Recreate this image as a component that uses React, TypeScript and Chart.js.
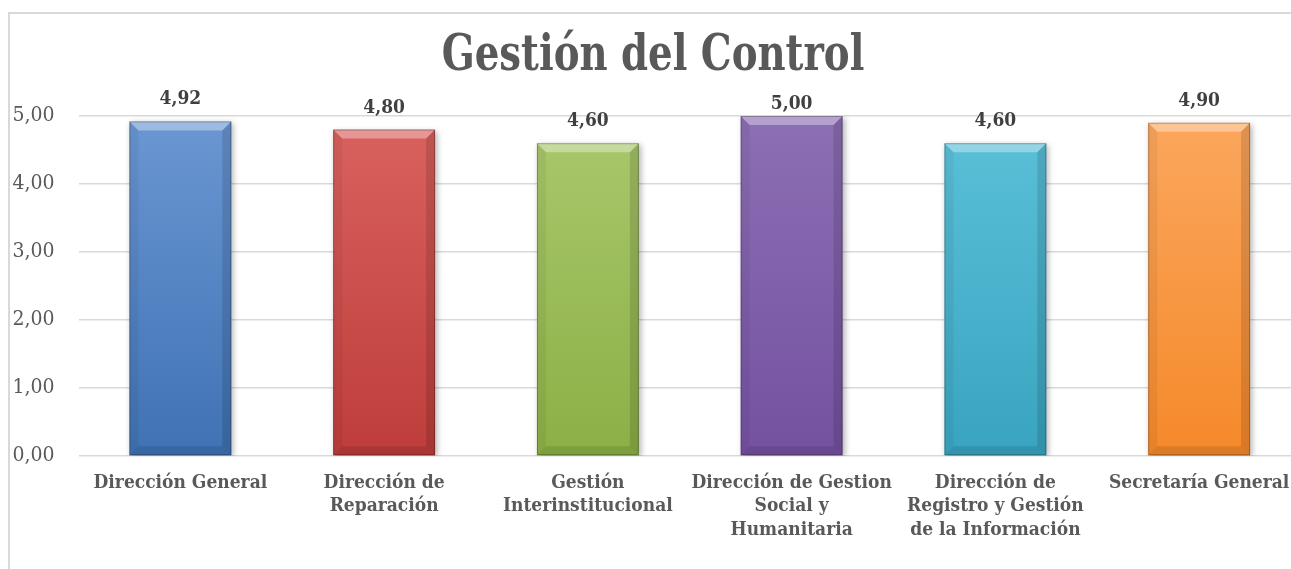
import React, { useEffect, useRef } from "react";
import { Chart, registerables } from "chart.js";
Chart.register(...registerables);

const chartTitle = "Gestión del Control";
const categories: string[][] = [
  ["Dirección General"],
  ["Dirección de", "Reparación"],
  ["Gestión", "Interinstitucional"],
  ["Dirección de Gestion", "Social y", "Humanitaria"],
  ["Dirección de", "Registro y Gestión", "de la Información"],
  ["Secretaría General"],
];
const values = [4.92, 4.8, 4.6, 5.0, 4.6, 4.9];
const yTickValues = [0, 1, 2, 3, 4, 5];
const barTopColors = ["#6b97d3", "#d9625f", "#aac86d", "#8c6fb4", "#5cc1d9", "#fba75e"];
const barBottomColors = ["#3f72b4", "#be3d3a", "#8cb046", "#7551a0", "#39a4c0", "#f5892a"];

const FONT = "DejaVu Serif Condensed";
const fmt = (v: number) => v.toFixed(2).replace(".", ",");

export default function App() {
  const ref = useRef<HTMLCanvasElement>(null);
  useEffect(() => {
    const canvas = ref.current!;
    const bevel = {
      id: "bevel",
      beforeDatasetsDraw(chart: any) {
        const ctx = chart.ctx;
        ctx.save();
        ctx.shadowColor = "rgba(0,0,0,0.3)";
        ctx.shadowBlur = 6;
        ctx.shadowOffsetX = 2;
        ctx.shadowOffsetY = 2;
      },
      afterDatasetsDraw(chart: any) {
        const ctx = chart.ctx;
        ctx.restore();
        const meta = chart.getDatasetMeta(0);
        meta.data.forEach((bar: any, i: number) => {
          const { x, y, base, width } = bar.getProps(["x", "y", "base", "width"], true);
          const x0 = x - width / 2;
          const x1 = x + width / 2;
          const b = 9;
          const poly = (pts: number[][], col: string) => {
            ctx.beginPath();
            ctx.moveTo(pts[0][0], pts[0][1]);
            for (let k = 1; k < pts.length; k++) ctx.lineTo(pts[k][0], pts[k][1]);
            ctx.closePath();
            ctx.fillStyle = col;
            ctx.fill();
          };
          poly([[x0, y], [x1, y], [x1 - b, y + b], [x0 + b, y + b]], "rgba(255,255,255,0.35)");
          poly([[x0, y], [x0 + b, y + b], [x0 + b, base - b], [x0, base]], "rgba(0,0,0,0.05)");
          poly([[x1, y], [x1 - b, y + b], [x1 - b, base - b], [x1, base]], "rgba(0,0,0,0.12)");
          poly([[x0, base], [x0 + b, base - b], [x1 - b, base - b], [x1, base]], "rgba(0,0,0,0.1)");
          ctx.strokeStyle = "rgba(0,0,0,0.25)";
          ctx.lineWidth = 1;
          ctx.strokeRect(x0 + 0.5, y + 0.5, width - 1, base - y - 1);
          const v = values[i];
          ctx.font = `bold 19px "${FONT}"`;
          ctx.fillStyle = "#404040";
          ctx.textAlign = "center";
          ctx.textBaseline = "middle";
          const ly = v >= 5 ? y - 12 : y - 22;
          ctx.fillText(fmt(v), x, ly);
        });
      },
      afterDraw(chart: any) {
        const ctx = chart.ctx;
        ctx.save();
        ctx.font = `bold 43px "${FONT}"`;
        ctx.fillStyle = "#595959";
        ctx.textAlign = "center";
        ctx.textBaseline = "alphabetic";
        ctx.translate(643, 56);
        ctx.scale(1, 1.19);
        ctx.fillText(chartTitle, 0, 0);
        ctx.restore();
      },
    };

    const chart = new Chart(canvas, {
      type: "bar",
      data: {
        labels: categories,
        datasets: [
          {
            data: values,
            backgroundColor: (c: any) => {
              const area = c.chart.chartArea;
              const i = c.dataIndex;
              if (!area || i === undefined) return barBottomColors[0];
              const g = c.chart.ctx.createLinearGradient(0, area.top, 0, area.bottom);
              g.addColorStop(0, barTopColors[i]);
              g.addColorStop(1, barBottomColors[i]);
              return g;
            },
            borderWidth: 0,
            categoryPercentage: 1,
            barPercentage: 0.5,
          },
        ],
      },
      options: {
        responsive: false,
        animation: false,
        layout: { padding: { top: 102, right: 9, left: 0, bottom: 0 } },
        plugins: { legend: { display: false }, tooltip: { enabled: false }, title: { display: false } },
        scales: {
          x: {
            grid: { display: false },
            border: { display: false },
            ticks: {
              autoSkip: false,
              maxRotation: 0,
              padding: 7,
              color: "#595959",
              font: { family: FONT, weight: "bold", size: 19, lineHeight: 1.24 },
            },
            afterFit: (s: any) => {
              s.height = 118;
            },
          },
          y: {
            min: 0,
            max: 5,
            afterBuildTicks: (s: any) => {
              s.ticks = yTickValues.map((v) => ({ value: v }));
            },
            grid: { color: "#d9d9d9", lineWidth: 1.5, drawTicks: false },
            border: { display: false },
            ticks: {
              padding: 24,
              color: "#595959",
              font: { family: FONT, size: 21 },
              callback: (v: any) => fmt(Number(v)),
            },
            afterFit: (s: any) => {
              s.width = 68.5;
            },
          },
        },
      },
      plugins: [bevel],
    });
    return () => chart.destroy();
  }, []);

  return (
    <div style={{ position: "fixed", left: 0, top: 0, width: 1291, height: 569, overflow: "hidden", background: "#fff" }}>
      <div
        style={{
          position: "absolute",
          left: 8,
          top: 12,
          width: 1320,
          height: 620,
          borderLeft: "2px solid #d9d9d9",
          borderTop: "2px solid #d9d9d9",
          boxSizing: "border-box",
        }}
      >
        <canvas ref={ref} width={1300} height={560} style={{ display: "block", width: 1300, height: 560 }} />
      </div>
    </div>
  );
}
